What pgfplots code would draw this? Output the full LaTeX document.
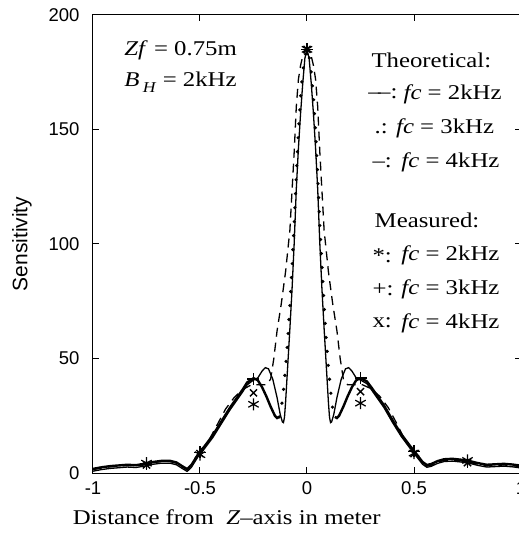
\documentclass[border=0pt]{standalone}
\usepackage{fontspec}
\setmainfont{Liberation Serif}[FakeStretch=1.18]
\newfontfamily\sansf{Liberation Sans}
\usepackage{pgfplots}
\pgfplotsset{compat=1.18}
\usetikzlibrary{calc}

\newcommand\txt{\fontsize{21}{24}\selectfont}

\begin{document}
\begin{tikzpicture}
\begin{axis}[name=ax, scale only axis, width=428pt, height=458pt,
  xmin=-1, xmax=1, ymin=0, ymax=200,
  xtick={-1,-0.5,0,0.5,1}, xticklabels={-1,-0.5,0,0.5,1},
  ytick={0,50,100,150,200}, yticklabels={0,50,100,150,200},
  tick align=inside, major tick length=6pt,
  axis line style={line width=1pt}, tick style={line width=1pt, black},
  ticklabel style={font=\sansf\fontsize{18.5}{20}\selectfont},
  xticklabel style={yshift=-5pt}, yticklabel style={xshift=-10pt},
  ylabel={\sansf\fontsize{21}{23}\selectfont Sensitivity},
  xlabel={\txt Distance from~~\textit{Z}\textendash axis in meter},
  every axis x label/.style={at={(ticklabel cs:0.3125)}, anchor=near ticklabel, yshift=-8pt},
  ylabel style={yshift=10pt},
]
% theoretical fc = 2kHz (dashed)
\addplot[black, line width=1.3pt, dash pattern=on 9pt off 6pt] coordinates {
 (-1,1.5)(-0.96,2.2)(-0.92,2.7)(-0.88,3.0)(-0.84,3.3)(-0.80,3.1)(-0.76,3.7)(-0.72,4.5)
 (-0.68,5.0)(-0.64,5.0)(-0.61,4.3)(-0.58,2.5)(-0.56,1.4)(-0.54,3.2)(-0.52,6.2)(-0.50,9.2)
 (-0.46,14)(-0.42,21)(-0.38,28)(-0.34,33)(-0.30,36.5)(-0.26,38.5)(-0.22,38.5)(-0.19,38.5)
 (-0.17,41)(-0.155,50)(-0.14,62)(-0.12,74)(-0.10,88)(-0.08,106)(-0.06,140)(-0.05,160)
 (-0.04,172)(-0.03,178)(-0.02,182)(-0.01,184.5)(0,185)
 (0.01,184.5)(0.02,182)(0.03,178)(0.04,172)(0.05,160)(0.06,140)(0.08,106)(0.10,88)
 (0.12,74)(0.14,62)(0.155,50)(0.17,41)(0.19,38.5)(0.22,38.5)(0.26,38.5)(0.30,36.8)
 (0.34,33.5)(0.38,28.5)(0.42,21.5)(0.46,14)(0.50,9.2)(0.52,6.7)(0.54,4.3)(0.56,3)
 (0.58,3.4)(0.61,4.7)(0.64,5.5)(0.68,5.7)(0.72,5.3)(0.76,4.7)(0.80,3.8)(0.84,3.1)
 (0.88,3.3)(0.92,3.5)(0.96,3.2)(1.00,2.7)};
% theoretical fc = 3kHz (dotted; dense dots look solid where flat)
\addplot[black, line width=2.4pt] coordinates {
 (-1,1.8)(-0.96,2.5)(-0.92,3)(-0.88,3.3)(-0.84,3.6)(-0.80,3.4)(-0.76,4)(-0.72,4.8)
 (-0.68,5.3)(-0.64,5.3)(-0.61,4.6)(-0.58,2.8)(-0.56,1.7)(-0.54,3.5)(-0.52,6.5)(-0.50,9.5)
 (-0.48,11.5)(-0.44,16.5)(-0.40,22.5)(-0.36,28.5)(-0.33,32.5)(-0.30,36.5)(-0.28,39.5)
 (-0.25,41.4)(-0.23,40.5)(-0.21,37.5)(-0.19,33.5)(-0.17,29)(-0.15,25)(-0.14,24)(-0.13,24.5)};
\addplot[black, line width=3.6pt, line cap=round, dash pattern=on 0pt off 14pt] coordinates {
 (-0.13,24.5)(-0.12,28)(-0.11,36)(-0.10,46)(-0.09,58)(-0.08,73)(-0.07,90)(-0.06,108)
 (-0.05,130)(-0.04,149)(-0.03,164)(-0.02,175)(-0.01,182)(0,185)
 (0.01,182)(0.02,175)(0.03,164)(0.04,149)(0.05,130)(0.06,108)(0.07,90)(0.08,73)
 (0.09,58)(0.10,46)(0.11,36)(0.12,28)(0.13,24.5)};
\addplot[black, line width=2.4pt] coordinates {
 (0.13,24.5)(0.14,24)(0.15,25)(0.17,29)(0.19,33.5)(0.21,37.5)(0.23,40.5)(0.25,41.4)
 (0.28,40)(0.30,37.5)(0.33,33.5)(0.36,29.5)(0.40,23)(0.44,17)(0.48,12)(0.50,9.7)
 (0.52,7.2)(0.54,4.8)(0.56,3.5)(0.58,3.9)(0.61,5.2)(0.64,6)(0.68,6.2)(0.72,5.8)
 (0.76,5.2)(0.80,4.3)(0.84,3.6)(0.88,3.8)(0.92,4)(0.96,3.7)(1.00,3.2)};
% theoretical fc = 4kHz (solid)
\addplot[black, line width=1.3pt] coordinates {
 (-1,0.8)(-0.96,1.5)(-0.92,2.0)(-0.88,2.3)(-0.84,2.6)(-0.80,2.4)(-0.76,3.0)(-0.72,3.8)
 (-0.68,4.3)(-0.64,4.3)(-0.61,3.6)(-0.58,1.8)(-0.56,0.7)(-0.54,2.5)(-0.52,5.5)(-0.50,8.5)
 (-0.48,10.5)(-0.44,15.5)(-0.40,21.5)(-0.36,27.5)(-0.33,31.5)(-0.30,35.5)(-0.28,38.5)
 (-0.25,40.6)(-0.23,41.5)(-0.21,44.5)(-0.195,46)(-0.18,45.5)(-0.16,41)(-0.14,33)
 (-0.125,25.5)(-0.115,22.3)(-0.11,22)(-0.105,24.5)(-0.10,31)(-0.09,47)(-0.08,63)
 (-0.07,80)(-0.06,100)(-0.05,124)(-0.04,142)(-0.03,157)(-0.02,170)(-0.01,181)(0,185)
 (0.01,181)(0.02,170)(0.03,157)(0.04,142)(0.05,124)(0.06,100)(0.07,80)(0.08,63)
 (0.09,47)(0.10,31)(0.105,24.5)(0.11,22)(0.115,22.3)(0.125,25.5)(0.14,33)(0.16,41)
 (0.18,45.5)(0.195,46)(0.21,44.5)(0.23,41.5)(0.25,40.6)(0.28,39)(0.30,36.5)(0.33,32.5)
 (0.36,28.5)(0.40,22)(0.44,16)(0.48,11)(0.50,8.7)(0.52,6.2)(0.54,3.8)(0.56,2.5)
 (0.58,2.9)(0.61,4.2)(0.64,5.0)(0.68,5.2)(0.72,4.8)(0.76,4.2)(0.80,3.3)(0.84,2.6)
 (0.88,2.8)(0.92,3.0)(0.96,2.7)(1.00,2.2)};
% measured
\addplot[black, only marks, mark=asterisk, mark size=6pt, line width=1.2pt] coordinates {
 (-0.75,4.3)(-0.5,8)(-0.25,30)(0,185)(0.25,30.5)(0.5,8.7)(0.75,5.5)};
\addplot[black, only marks, mark=+, mark size=6pt, line width=1.4pt] coordinates {
 (-0.75,4)(-0.5,9)(-0.25,41)(0,185)(0.25,41.5)(0.5,9.5)(0.75,5)};
\addplot[black, only marks, mark=x, mark size=5pt, line width=1.4pt] coordinates {
 (-0.75,3.5)(-0.5,8.5)(-0.25,35)(0,185)(0.25,35.5)(0.5,8.5)(0.75,4.5)};

\node[anchor=west, font=\txt] at (axis cs:-0.87,184.7) {\textit{Zf} = 0.75m};
\node[anchor=west, font=\txt] at (axis cs:-0.87,170.5) {\textit{B}\,\raisebox{-6pt}{\fontsize{15}{15}\selectfont\textit{H}} = 2kHz};

\node[anchor=west, font=\txt] at (axis cs:0.285,180) {Theoretical:};
\node[anchor=west, font=\txt] at (axis cs:0.27,165.5) {\textendash\kern-2.5pt\textendash:};
\node[anchor=west, font=\txt] at (axis cs:0.30,150.5) {.:};
\node[anchor=west, font=\txt] at (axis cs:0.29,135.5) {\textendash:};
\node[anchor=west, font=\txt] at (axis cs:0.30,110.5) {Measured:};
\node[anchor=west, font=\txt] at (axis cs:0.29,95) {*:};
\node[anchor=west, font=\txt] at (axis cs:0.29,80) {+:};
\node[anchor=west, font=\txt] at (axis cs:0.29,65.5) {x:};
\node[anchor=west, font=\txt] at (axis cs:0.435,165.5) {\textit{fc} = 2kHz};
\node[anchor=west, font=\txt] at (axis cs:0.40,150.5) {\textit{fc} = 3kHz};
\node[anchor=west, font=\txt] at (axis cs:0.425,135.5) {\textit{fc} = 4kHz};
\node[anchor=west, font=\txt] at (axis cs:0.425,95) {\textit{fc} = 2kHz};
\node[anchor=west, font=\txt] at (axis cs:0.425,80) {\textit{fc} = 3kHz};
\node[anchor=west, font=\txt] at (axis cs:0.425,65.5) {\textit{fc} = 4kHz};
\end{axis}
\pgfresetboundingbox
\path ($(ax.south west)+(-93pt,-71pt)$) rectangle ($(ax.north east)+(-2pt,15pt)$);
\end{tikzpicture}
\end{document}
